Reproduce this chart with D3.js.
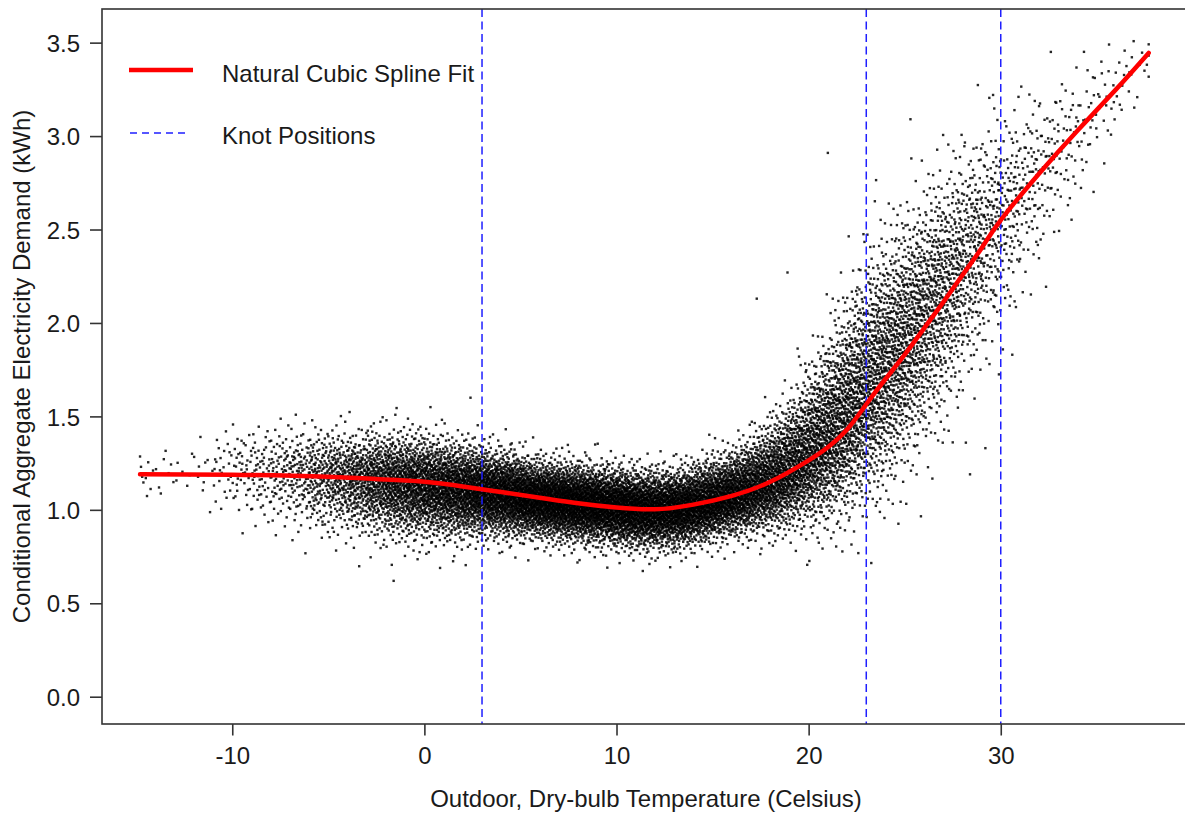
<!DOCTYPE html>
<html>
<head>
<meta charset="utf-8">
<script src="https://cdn.jsdelivr.net/npm/d3@7"></script>
<style>
  html, body { margin: 0; padding: 0; background: #fff; }
  svg { display: block; font-family: "Liberation Sans", Arial, sans-serif; }
</style>
</head>
<body>
<svg id="chart" width="1185" height="819"></svg>
<script>
// ---------------- DATA ----------------
// Natural cubic spline fit (temperature °C -> kWh)
const splineTemp  = [-14.8, -10, -5, -2, 0, 2, 4, 6, 8, 10, 12, 14, 16, 18, 20, 21, 22, 23, 24, 25, 26, 27, 28, 29, 30, 32, 34, 36, 37.7];
const splineValue = [1.19, 1.188, 1.177, 1.162, 1.15, 1.125, 1.095, 1.065, 1.035, 1.012, 1.003, 1.028, 1.075, 1.15, 1.265, 1.335, 1.43, 1.565, 1.70, 1.83, 1.97, 2.11, 2.255, 2.40, 2.55, 2.80, 3.03, 3.25, 3.445];

// Knot positions (°C)
const knots = [3, 23, 30];

// Observation cloud, summarised per 1 °C bin as read from the picture:
// bin centre, typical (median) demand, spread below / above, approximate number of points
const cloudTemp  = [-14.5,-13.5,-12.5,-11.5,-10.5,-9.5,-8.5,-7.5,-6.5,-5.5,-4.5,-3.5,-2.5,-1.5,-0.5,0.5,1.5,2.5,3.5,4.5,5.5,6.5,7.5,8.5,9.5,10.5,11.5,12.5,13.5,14.5,15.5,16.5,17.5,18.5,19.5,20.5,21.5,22.5,23.5,24.5,25.5,26.5,27.5,28.5,29.5,30.5,31.5,32.5,33.5,34.5,35.5,36.5,37.5];
const cloudMid   = [1.20,1.20,1.20,1.22,1.22,1.22,1.20,1.20,1.19,1.18,1.17,1.16,1.15,1.14,1.13,1.12,1.11,1.10,1.09,1.08,1.06,1.05,1.04,1.03,1.02,1.01,1.00,1.00,1.01,1.03,1.06,1.09,1.13,1.18,1.25,1.34,1.45,1.58,1.71,1.83,1.96,2.10,2.23,2.37,2.50,2.62,2.74,2.86,2.97,3.08,3.20,3.30,3.40];
const cloudLow   = [0.07,0.08,0.08,0.10,0.11,0.13,0.14,0.14,0.14,0.14,0.14,0.14,0.14,0.14,0.14,0.13,0.13,0.12,0.11,0.11,0.10,0.10,0.10,0.10,0.10,0.10,0.10,0.10,0.10,0.10,0.10,0.11,0.12,0.14,0.16,0.20,0.24,0.27,0.30,0.31,0.32,0.32,0.32,0.31,0.30,0.28,0.26,0.24,0.21,0.18,0.16,0.14,0.10];
const cloudHigh  = [0.07,0.08,0.08,0.10,0.10,0.11,0.12,0.12,0.12,0.12,0.12,0.12,0.13,0.13,0.13,0.13,0.12,0.12,0.11,0.11,0.10,0.10,0.10,0.10,0.10,0.10,0.10,0.10,0.10,0.11,0.11,0.12,0.14,0.16,0.19,0.23,0.27,0.30,0.32,0.32,0.31,0.30,0.29,0.28,0.26,0.24,0.22,0.20,0.18,0.16,0.15,0.12,0.08];
const cloudCount = [10,8,6,10,25,40,55,75,100,140,180,230,290,340,380,400,420,440,460,480,500,510,520,520,520,520,510,500,490,470,450,440,430,430,440,450,460,460,440,410,370,320,260,200,150,105,75,52,38,28,20,14,8];

// Individually readable stray observations (temperature, demand)
const strayTemp  = [21.0, 17.3, 18.9, 25.3, 29.6, -1.6, 28.4, 29.2, 30.6, 19.5, -5.3, 2.4];
const strayValue = [2.91, 2.13, 2.27, 3.09, 3.22, 0.62, 1.19, 1.33, 1.83, 1.82, 0.92, 1.60];

// Axis ticks
const xTicks = [-10, 0, 10, 20, 30];
const yTicks = [0.0, 0.5, 1.0, 1.5, 2.0, 2.5, 3.0, 3.5];

// Texts
const xTitle = "Outdoor, Dry-bulb Temperature (Celsius)";
const yTitle = "Conditional Aggregate Electricity Demand (kWh)";
const legendLabels = ["Natural Cubic Spline Fit", "Knot Positions"];

// ---------------- LAYOUT ----------------
const plot = { left: 102, top: 9, right: 1190, bottom: 724 };
const xDomain = [-16.78, 39.85];
const yDomain = [-0.146, 3.68];

const svg = d3.select("#chart");
const x = d3.scaleLinear().domain(xDomain).range([plot.left, plot.right]);
const y = d3.scaleLinear().domain(yDomain).range([plot.bottom, plot.top]);

// ---------- spread the cloud points inside the read bin summaries ----------
function invNorm(p) {
  const a = [-3.969683028665376e+01, 2.209460984245205e+02, -2.759285104469687e+02, 1.383577518672690e+02, -3.066479806614716e+01, 2.506628277459239e+00];
  const b = [-5.447609879822406e+01, 1.615858368580409e+02, -1.556989798598866e+02, 6.680131188771972e+01, -1.328068155288572e+01];
  const c = [-7.784894002430293e-03, -3.223964580411365e-01, -2.400758277161838e+00, -2.549732539343734e+00, 4.374664141464968e+00, 2.938163982698783e+00];
  const d = [7.784695709041462e-03, 3.224671290700398e-01, 2.445134137142996e+00, 3.754408661907416e+00];
  const pl = 0.02425, ph = 1 - pl;
  let q, r;
  if (p < pl) { q = Math.sqrt(-2 * Math.log(p)); return (((((c[0]*q+c[1])*q+c[2])*q+c[3])*q+c[4])*q+c[5]) / ((((d[0]*q+d[1])*q+d[2])*q+d[3])*q+1); }
  if (p > ph) { q = Math.sqrt(-2 * Math.log(1 - p)); return -(((((c[0]*q+c[1])*q+c[2])*q+c[3])*q+c[4])*q+c[5]) / ((((d[0]*q+d[1])*q+d[2])*q+d[3])*q+1); }
  q = p - 0.5; r = q * q;
  return (((((a[0]*r+a[1])*r+a[2])*r+a[3])*r+a[4])*r+a[5])*q / (((((b[0]*r+b[1])*r+b[2])*r+b[3])*r+b[4])*r+1);
}
function halton(i, base) {
  let f = 1, r = 0;
  while (i > 0) { f /= base; r += f * (i % base); i = Math.floor(i / base); }
  return r;
}
const midAt  = d3.scaleLinear().domain(cloudTemp).range(cloudMid).clamp(true);
const lowAt  = d3.scaleLinear().domain(cloudTemp).range(cloudLow).clamp(true);
const highAt = d3.scaleLinear().domain(cloudTemp).range(cloudHigh).clamp(true);

const cloud = [];
let g = 1;
cloudTemp.forEach((tc, k) => {
  const n = cloudCount[k];
  for (let i = 0; i < n; i++, g++) {
    const u = halton(g, 2);
    const v = halton(g, 3);
    let t = tc - 0.5 + u;
    t = Math.max(-14.8, Math.min(37.7, t));
    let z = invNorm(Math.min(0.9995, Math.max(0.0005, v)));
    z = Math.max(-3.3, Math.min(3.3, z));
    const val = midAt(t) + z * (z < 0 ? lowAt(t) : highAt(t));
    cloud.push([t, Math.min(3.52, val)]);
  }
});
strayTemp.forEach((t, i) => cloud.push([t, strayValue[i]]));

// ---------------- DRAW ----------------
const textColor = "#1a1a1a";

// points
svg.append("g")
  .selectAll("rect")
  .data(cloud)
  .join("rect")
  .attr("x", d => x(d[0]) - 1.2)
  .attr("y", d => y(d[1]) - 1.2)
  .attr("width", 2.4)
  .attr("height", 2.4)
  .attr("fill", "#000")
  .attr("fill-opacity", 0.85);

// knot lines
svg.append("g")
  .selectAll("line")
  .data(knots)
  .join("line")
  .attr("x1", d => x(d)).attr("x2", d => x(d))
  .attr("y1", plot.top).attr("y2", plot.bottom)
  .attr("stroke", "#1f1fff")
  .attr("stroke-width", 1.5)
  .attr("stroke-dasharray", "8,4.5");

// spline
const splineData = splineTemp.map((t, i) => [t, splineValue[i]]);
svg.append("path")
  .datum(splineData)
  .attr("d", d3.line().x(d => x(d[0])).y(d => y(d[1])).curve(d3.curveNatural))
  .attr("fill", "none")
  .attr("stroke", "#ff0000")
  .attr("stroke-width", 4.5)
  .attr("stroke-linecap", "round");

// box
svg.append("rect")
  .attr("x", plot.left).attr("y", plot.top)
  .attr("width", plot.right - plot.left).attr("height", plot.bottom - plot.top)
  .attr("fill", "none").attr("stroke", "#333").attr("stroke-width", 1.6);

// axes
const xAxis = svg.append("g")
  .attr("transform", `translate(0,${plot.bottom})`)
  .call(d3.axisBottom(x).tickValues(xTicks).tickFormat(d => String(d)).tickSize(11.5).tickSizeOuter(0).tickPadding(11));
const yAxis = svg.append("g")
  .attr("transform", `translate(${plot.left},0)`)
  .call(d3.axisLeft(y).tickValues(yTicks).tickFormat(d3.format(".1f")).tickSize(12).tickSizeOuter(0).tickPadding(10));
[xAxis, yAxis].forEach(gr => {
  gr.select(".domain").remove();
  gr.selectAll(".tick line").attr("stroke", "#333").attr("stroke-width", 1.6);
  gr.selectAll(".tick text")
    .attr("fill", textColor)
    .style("font-family", "'Liberation Sans', Arial, sans-serif")
    .style("font-size", "24px");
});
xAxis.selectAll(".tick text").attr("dy", "0.71em");
yAxis.selectAll(".tick text").attr("dy", "0.36em");

// axis titles
svg.append("text")
  .attr("x", (plot.left + plot.right) / 2)
  .attr("y", 807)
  .attr("text-anchor", "middle")
  .attr("fill", textColor)
  .style("font-size", "24px")
  .text(xTitle);
svg.append("text")
  .attr("transform", `translate(30,${(plot.top + plot.bottom) / 2}) rotate(-90)`)
  .attr("text-anchor", "middle")
  .attr("fill", textColor)
  .style("font-size", "24px")
  .text(yTitle);

// legend
const legend = svg.append("g");
legend.append("line")
  .attr("x1", 129).attr("x2", 193).attr("y1", 70).attr("y2", 70)
  .attr("stroke", "#ff0000").attr("stroke-width", 4.5);
legend.append("line")
  .attr("x1", 130).attr("x2", 188).attr("y1", 133).attr("y2", 133)
  .attr("stroke", "#1f1fff").attr("stroke-width", 1.5).attr("stroke-dasharray", "7,5");
legend.selectAll("text.lab")
  .data(legendLabels)
  .join("text")
  .attr("class", "lab")
  .attr("x", 222)
  .attr("y", (d, i) => 82 + i * 62)
  .attr("fill", textColor)
  .style("font-size", "24px")
  .text(d => d);
</script>
</body>
</html>
